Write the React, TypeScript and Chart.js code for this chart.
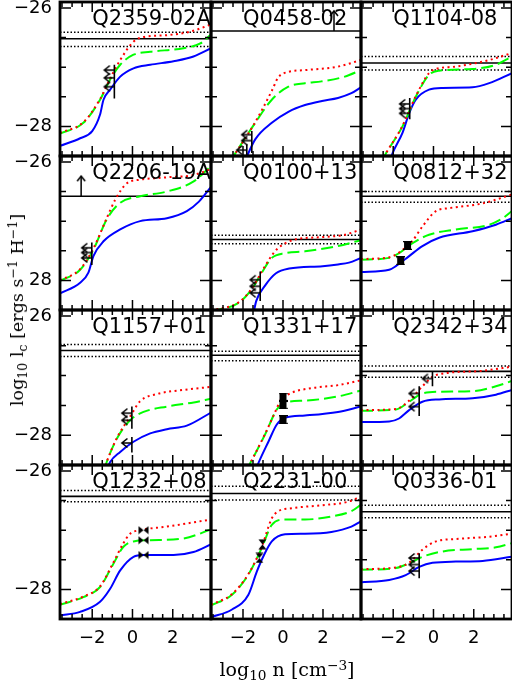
import React, { useEffect, useRef } from 'react';
import { Chart, registerables } from 'chart.js';

Chart.register(...registerables);

// ---------- axis ranges and ticks ----------
const X_MIN = -3.6;
const X_MAX = 3.9;
const Y_MIN = -28.5;
const Y_MAX = -25.9;
const MAJOR_STEP = 2;
const MINOR_STEP = 0.5;
const TITLE_X = -2; // panel names start at this x value
const TITLE_Y = -26.28; // panel names baseline

const PANEL_NAMES = [
  'Q2359-02A', 'Q0458-02', 'Q1104-08',
  'Q2206-19A', 'Q0100+13', 'Q0812+32',
  'Q1157+01', 'Q1331+17', 'Q2342+34',
  'Q1232+08', 'Q2231-00', 'Q0336-01',
];

// ---------- Q2359-02A ----------
const BLUE_Q2359 = [[-3.6, -28.33], [-2.6, -28.2], [-2.0, -28.08], [-1.61, -27.8], [-1.44, -27.55], [-1.11, -27.38], [-0.61, -27.16], [0.05, -27.02], [0.88, -26.96], [2.04, -26.9], [3.03, -26.82], [3.9, -26.68]];
const GREEN_Q2359 = [[-3.6, -28.12], [-2.44, -27.94], [-1.61, -27.55], [-1.11, -27.21], [-0.61, -26.96], [0.05, -26.79], [0.88, -26.74], [2.54, -26.68], [3.37, -26.6], [3.9, -26.45]];
const RED_Q2359 = [[-3.6, -28.11], [-2.44, -27.93], [-1.61, -27.54], [-1.11, -27.19], [-0.61, -26.88], [0.05, -26.57], [0.55, -26.49], [1.71, -26.46], [2.87, -26.4], [3.9, -26.28]];
const LEVEL_Q2359 = [-26.52, -26.41, -26.65];
const BARS_Q2359 = [[-0.9, -26.96, -27.53]];
const ARROWS_Q2359 = [[-0.9, -27.05], [-0.9, -27.18], [-0.9, -27.33]];

// ---------- Q0458-02 ----------
const BLUE_Q0458 = [[-1.93, -28.6], [-1.39, -28.22], [-0.56, -27.94], [0.29, -27.75], [1.1, -27.64], [1.95, -27.57], [2.75, -27.52], [3.42, -27.44], [3.9, -27.34]];
const GREEN_Q0458 = [[-2.66, -28.6], [-1.39, -27.94], [-0.56, -27.55], [0.27, -27.33], [1.1, -27.27], [1.93, -27.24], [3.09, -27.16], [3.9, -27.05]];
const RED_Q0458 = [[-2.66, -28.6], [-1.39, -27.93], [-0.56, -27.4], [-0.23, -27.17], [0.27, -27.08], [1.1, -27.05], [2.75, -26.99], [3.9, -26.88]];
const LEVEL_Q0458 = [-26.39];
const LIMIT_Q0458 = [2.55, -26.05];
const BARS_Q0458 = [[-1.56, -28.08, -28.45], [-1.81, -28.3, -28.55]];
const ARROWS_Q0458 = [[-1.56, -28.14], [-1.56, -28.24], [-1.81, -28.4]];

// ---------- Q1104-08 ----------
const BLUE_Q1104 = [[-2.17, -28.6], [-2.04, -28.46], [-1.54, -28.11], [-1.21, -27.78], [-0.88, -27.55], [-0.22, -27.38], [0.45, -27.35], [1.94, -27.34], [2.77, -27.27], [3.9, -27.1]];
const GREEN_Q1104 = [[-2.6, -28.6], [-2.37, -28.46], [-1.54, -28.0], [-0.88, -27.5], [-0.22, -27.13], [0.28, -27.06], [1.94, -27.03], [3.1, -26.96], [3.9, -26.82]];
const RED_Q1104 = [[-2.6, -28.6], [-2.37, -28.46], [-1.54, -27.99], [-0.88, -27.49], [-0.22, -27.1], [0.12, -27.03], [1.11, -26.99], [2.77, -26.88], [3.9, -26.76]];
const LEVEL_Q1104 = [-26.93, -26.82, -27.05];
const BARS_Q1104 = [[-1.18, -27.52, -27.88]];
const ARROWS_Q1104 = [[-1.18, -27.62], [-1.18, -27.7], [-1.18, -27.78]];

// ---------- Q2206-19A ----------
const BLUE_Q2206 = [[-3.6, -28.22], [-2.6, -28.04], [-2.19, -27.87], [-1.94, -27.59], [-1.44, -27.34], [-0.61, -27.14], [0.38, -27.0], [1.71, -26.95], [2.7, -26.83], [3.3, -26.67], [3.9, -26.42]];
const GREEN_Q2206 = [[-3.6, -28.01], [-2.6, -27.82], [-1.94, -27.48], [-1.28, -26.97], [-0.61, -26.69], [0.38, -26.58], [1.71, -26.5], [3.04, -26.33], [3.9, -26.07]];
const RED_Q2206 = [[-3.6, -28.0], [-2.6, -27.81], [-1.94, -27.46], [-1.28, -26.95], [-0.86, -26.64], [-0.28, -26.36], [0.38, -26.3], [1.71, -26.26], [3.04, -26.22], [3.9, -26.12]];
const LEVEL_Q2206 = [-26.58];
const LIMIT_Q2206 = [-2.55, -26.24];
const BARS_Q2206 = [[-2.02, -27.36, -27.74]];
const ARROWS_Q2206 = [[-2.02, -27.45], [-2.02, -27.53], [-2.02, -27.62]];

// ---------- Q0100+13 ----------
const BLUE_Q0100 = [[-1.5, -28.6], [-1.34, -28.35], [-0.88, -28.08], [-0.35, -27.88], [0.31, -27.8], [1.98, -27.76], [2.75, -27.73], [3.3, -27.7], [3.9, -27.62]];
const GREEN_Q0100 = [[-3.6, -28.52], [-2.22, -28.38], [-1.56, -28.15], [-1.06, -27.87], [-0.56, -27.62], [0.1, -27.54], [1.1, -27.51], [2.75, -27.42], [3.9, -27.32]];
const RED_Q0100 = [[-3.6, -28.51], [-2.22, -28.37], [-1.56, -28.14], [-1.06, -27.85], [-0.56, -27.58], [-0.23, -27.45], [0.6, -27.31], [1.93, -27.27], [3.09, -27.23], [3.9, -27.14]];
const LEVEL_Q0100 = [-27.31, -27.24, -27.38];
const BARS_Q0100 = [[-1.14, -27.85, -28.35]];
const ARROWS_Q0100 = [[-1.14, -27.99], [-1.14, -28.1], [-1.14, -28.21]];

// ---------- Q0812+32 ----------
const BLUE_Q0812 = [[-3.6, -27.86], [-2.2, -27.82], [-1.87, -27.76], [-1.21, -27.59], [-0.55, -27.42], [0.28, -27.28], [1.94, -27.17], [3.1, -27.06], [3.9, -26.95]];
const GREEN_Q0812 = [[-3.6, -27.65], [-2.2, -27.62], [-1.71, -27.54], [-1.04, -27.37], [-0.22, -27.23], [1.11, -27.14], [2.77, -27.06], [3.44, -26.95], [3.9, -26.83]];
const RED_Q0812 = [[-3.6, -27.64], [-2.2, -27.61], [-1.71, -27.53], [-1.04, -27.33], [-0.55, -27.09], [0.12, -26.83], [0.78, -26.78], [2.44, -26.7], [3.9, -26.55]];
const LEVEL_Q0812 = [-26.58, -26.5, -26.68];
const POINTS_Q0812 = [[-1.29, -27.41], [-1.63, -27.67]];

// ---------- Q1157+01 ----------
const BLUE_Q1157 = [[-1.3, -28.6], [-1.11, -28.45], [-0.61, -28.28], [0.05, -28.11], [0.88, -27.97], [1.71, -27.9], [2.7, -27.84], [3.9, -27.62]];
const GREEN_Q1157 = [[-1.42, -28.6], [-1.28, -28.45], [-0.78, -28.06], [-0.12, -27.75], [0.55, -27.61], [1.71, -27.52], [3.04, -27.45], [3.9, -27.39]];
const RED_Q1157 = [[-1.42, -28.6], [-1.28, -28.45], [-0.78, -28.05], [-0.12, -27.69], [0.38, -27.43], [1.21, -27.31], [2.54, -27.24], [3.9, -27.19]];
const LEVEL_Q1157 = [-26.58, -26.48, -26.68];
const BARS_Q1157 = [[-0.03, -27.52, -27.89], [-0.03, -28.03, -28.29]];
const ARROWS_Q1157 = [[-0.03, -27.63], [-0.03, -27.75], [-0.03, -28.13]];

// ---------- Q1331+17 ----------
const BLUE_Q1331 = [[-1.38, -28.6], [-1.23, -28.47], [-0.73, -28.11], [-0.31, -27.82], [0.1, -27.71], [1.1, -27.67], [2.75, -27.61], [3.9, -27.52]];
const GREEN_Q1331 = [[-1.85, -28.6], [-1.64, -28.47], [-0.9, -27.99], [-0.31, -27.57], [0.1, -27.45], [1.1, -27.42], [2.75, -27.35], [3.9, -27.25]];
const RED_Q1331 = [[-1.85, -28.6], [-1.64, -28.47], [-0.9, -27.98], [-0.31, -27.55], [-0.15, -27.43], [0.43, -27.29], [1.43, -27.21], [2.75, -27.16], [3.9, -27.08]];
const LEVEL_Q1331 = [-26.66, -26.59, -26.75];
const POINTS_Q1331 = [[0.0, -27.36], [0.0, -27.49], [0.0, -27.74]];

// ---------- Q2342+34 ----------
const BLUE_Q2342 = [[-3.6, -27.78], [-2.2, -27.77], [-1.71, -27.72], [-1.21, -27.58], [-0.55, -27.44], [0.28, -27.4], [1.94, -27.38], [3.1, -27.32], [3.9, -27.24]];
const GREEN_Q2342 = [[-3.6, -27.59], [-1.87, -27.57], [-1.21, -27.44], [-0.55, -27.3], [0.28, -27.27], [1.94, -27.26], [3.1, -27.18], [3.9, -27.09]];
const RED_Q2342 = [[-3.6, -27.58], [-1.87, -27.56], [-1.21, -27.42], [-0.55, -27.18], [-0.05, -27.02], [0.61, -26.96], [2.44, -26.92], [3.9, -26.85]];
const LEVEL_Q2342 = [-26.93, -26.84, -27.03];
const BARS_Q2342 = [[-0.05, -26.93, -27.18], [-0.71, -27.18, -27.68]];
const ARROWS_Q2342 = [[-0.05, -27.05], [-0.71, -27.3], [-0.71, -27.52]];

// ---------- Q1232+08 ----------
const BLUE_Q1232 = [[-3.6, -28.44], [-2.6, -28.38], [-1.61, -28.21], [-1.11, -27.99], [-0.61, -27.68], [0.05, -27.45], [0.55, -27.42], [2.04, -27.42], [3.03, -27.37], [3.9, -27.24]];
const GREEN_Q1232 = [[-3.6, -28.26], [-2.44, -28.13], [-1.61, -27.96], [-1.03, -27.62], [-0.45, -27.28], [0.05, -27.19], [0.88, -27.17], [2.54, -27.14], [3.9, -26.99]];
const RED_Q1232 = [[-3.6, -28.25], [-2.44, -28.12], [-1.61, -27.95], [-1.03, -27.6], [-0.45, -27.22], [-0.12, -27.06], [0.38, -27.0], [1.71, -26.94], [3.9, -26.82]];
const LEVEL_Q1232 = [-26.43, -26.33, -26.52];
const POINTS_Q1232 = [[0.55, -27.0], [0.55, -27.17], [0.55, -27.42]];

// ---------- Q2231-00 ----------
const BLUE_Q2231 = [[-3.6, -28.47], [-2.55, -28.34], [-1.73, -28.09], [-1.31, -27.7], [-0.98, -27.44], [-0.56, -27.19], [0.1, -27.07], [1.1, -27.06], [2.42, -27.03], [3.42, -26.94], [3.9, -26.85]];
const GREEN_Q2231 = [[-3.6, -28.27], [-2.55, -28.09], [-1.73, -27.75], [-1.06, -27.3], [-0.56, -26.91], [0.1, -26.82], [1.1, -26.82], [2.42, -26.77], [3.42, -26.68], [3.9, -26.57]];
const RED_Q2231 = [[-3.6, -28.26], [-2.55, -28.08], [-1.73, -27.74], [-1.06, -27.28], [-0.56, -26.8], [-0.23, -26.68], [0.43, -26.63], [1.93, -26.58], [3.25, -26.52], [3.9, -26.43]];
const LEVEL_Q2231 = [-26.38, -26.26, -26.49];
const POINTS_Q2231 = [[-1.03, -27.24], [-1.18, -27.47]];

// ---------- Q0336-01 ----------
const BLUE_Q0336 = [[-3.6, -27.88], [-2.2, -27.84], [-1.38, -27.76], [-0.71, -27.62], [-0.05, -27.55], [1.11, -27.53], [2.44, -27.52], [3.9, -27.45]];
const GREEN_Q0336 = [[-3.6, -27.67], [-1.87, -27.64], [-1.21, -27.56], [-0.55, -27.45], [0.45, -27.36], [1.94, -27.32], [3.1, -27.29], [3.9, -27.22]];
const RED_Q0336 = [[-3.6, -27.66], [-1.87, -27.63], [-1.21, -27.55], [-0.55, -27.33], [0.12, -27.19], [1.11, -27.15], [2.77, -27.11], [3.9, -27.06]];
const LEVEL_Q0336 = [-26.69, -26.58, -26.79];
const BARS_Q0336 = [[-0.71, -27.39, -27.81]];
const ARROWS_Q0336 = [[-0.71, -27.47], [-0.71, -27.58], [-0.71, -27.69]];

type Pair = number[];
type PanelData = {
  blue: Pair[]; green: Pair[]; red: Pair[]; level: number[];
  limit?: number[]; bars?: number[][]; arrows?: Pair[]; points?: Pair[]; glyph?: 'bow' | 'hour' | 'box';
};

const PANELS: PanelData[] = [
  { blue: BLUE_Q2359, green: GREEN_Q2359, red: RED_Q2359, level: LEVEL_Q2359, bars: BARS_Q2359, arrows: ARROWS_Q2359 },
  { blue: BLUE_Q0458, green: GREEN_Q0458, red: RED_Q0458, level: LEVEL_Q0458, limit: LIMIT_Q0458, bars: BARS_Q0458, arrows: ARROWS_Q0458 },
  { blue: BLUE_Q1104, green: GREEN_Q1104, red: RED_Q1104, level: LEVEL_Q1104, bars: BARS_Q1104, arrows: ARROWS_Q1104 },
  { blue: BLUE_Q2206, green: GREEN_Q2206, red: RED_Q2206, level: LEVEL_Q2206, limit: LIMIT_Q2206, bars: BARS_Q2206, arrows: ARROWS_Q2206 },
  { blue: BLUE_Q0100, green: GREEN_Q0100, red: RED_Q0100, level: LEVEL_Q0100, bars: BARS_Q0100, arrows: ARROWS_Q0100 },
  { blue: BLUE_Q0812, green: GREEN_Q0812, red: RED_Q0812, level: LEVEL_Q0812, points: POINTS_Q0812, glyph: 'box' },
  { blue: BLUE_Q1157, green: GREEN_Q1157, red: RED_Q1157, level: LEVEL_Q1157, bars: BARS_Q1157, arrows: ARROWS_Q1157 },
  { blue: BLUE_Q1331, green: GREEN_Q1331, red: RED_Q1331, level: LEVEL_Q1331, points: POINTS_Q1331, glyph: 'box' },
  { blue: BLUE_Q2342, green: GREEN_Q2342, red: RED_Q2342, level: LEVEL_Q2342, bars: BARS_Q2342, arrows: ARROWS_Q2342 },
  { blue: BLUE_Q1232, green: GREEN_Q1232, red: RED_Q1232, level: LEVEL_Q1232, points: POINTS_Q1232, glyph: 'bow' },
  { blue: BLUE_Q2231, green: GREEN_Q2231, red: RED_Q2231, level: LEVEL_Q2231, points: POINTS_Q2231, glyph: 'hour' },
  { blue: BLUE_Q0336, green: GREEN_Q0336, red: RED_Q0336, level: LEVEL_Q0336, bars: BARS_Q0336, arrows: ARROWS_Q0336 },
];

// ---------- layout (pixels) ----------
const COL_EDGES = [60, 211, 361, 512];
const ROW_EDGES = [2, 156, 310, 465, 619];
const PAD = 24;
const BOTTOM_AXIS = 50;
const LEFT_AXIS = 60;

const TICK_FONT = { family: '"DejaVu Sans"', size: 18 };

// ---------- marker glyphs ----------
function makeGlyphs() {
  const mk = (w: number, h: number, draw: (c: CanvasRenderingContext2D) => void) => {
    const cv = document.createElement('canvas');
    cv.width = w; cv.height = h;
    const c = cv.getContext('2d')!;
    c.strokeStyle = '#000'; c.fillStyle = '#000'; c.lineWidth = 1.6;
    draw(c);
    return cv;
  };
  const left = mk(24, 12, (c) => {
    c.beginPath();
    c.moveTo(12, 6); c.lineTo(2, 6);
    c.moveTo(7.5, 1.5); c.lineTo(2, 6); c.lineTo(7.5, 10.5);
    c.stroke();
  });
  const up = mk(12, 12, (c) => {
    c.beginPath();
    c.moveTo(2, 11); c.lineTo(6, 6); c.lineTo(10, 11);
    c.stroke();
  });
  const bow = mk(11, 9, (c) => {
    c.beginPath();
    c.moveTo(0.5, 0.5); c.lineTo(0.5, 8.5); c.lineTo(5.5, 4.5); c.closePath();
    c.moveTo(10.5, 0.5); c.lineTo(10.5, 8.5); c.lineTo(5.5, 4.5); c.closePath();
    c.fill();
  });
  const hour = mk(9, 11, (c) => {
    c.beginPath();
    c.moveTo(0.5, 0.5); c.lineTo(8.5, 0.5); c.lineTo(4.5, 5.5); c.closePath();
    c.moveTo(0.5, 10.5); c.lineTo(8.5, 10.5); c.lineTo(4.5, 5.5); c.closePath();
    c.fill();
  });
  const box = mk(9, 9, (c) => {
    c.fillRect(1, 1, 7, 7);
    c.beginPath();
    c.moveTo(0, 0.5); c.lineTo(9, 0.5);
    c.moveTo(0, 8.5); c.lineTo(9, 8.5);
    c.stroke();
  });
  return { left, up, bow, hour, box };
}

const framePlugin = {
  id: 'panelFrame',
  afterDatasetsDraw(chart: any, _args: any, opts: any) {
    const { ctx, chartArea: a, scales } = chart;
    const xs = scales.x;
    const ys = scales.y;
    ctx.save();
    ctx.strokeStyle = '#000';
    ctx.lineWidth = 1.5;
    ctx.beginPath();
    const isMajor = (v: number) => Math.abs(v / MAJOR_STEP - Math.round(v / MAJOR_STEP)) < 1e-6;
    for (let i = Math.ceil(X_MIN / MINOR_STEP); i * MINOR_STEP <= X_MAX + 1e-9; i++) {
      const v = i * MINOR_STEP;
      const px = xs.getPixelForValue(v);
      const len = isMajor(v) ? 10 : 5;
      ctx.moveTo(px, a.bottom); ctx.lineTo(px, a.bottom - len);
      ctx.moveTo(px, a.top); ctx.lineTo(px, a.top + len);
    }
    for (let i = Math.ceil(Y_MIN / MINOR_STEP); i * MINOR_STEP <= Y_MAX + 1e-9; i++) {
      const v = i * MINOR_STEP;
      const py = ys.getPixelForValue(v);
      const len = isMajor(v) ? 11 : 6;
      ctx.moveTo(a.left, py); ctx.lineTo(a.left + len, py);
      ctx.moveTo(a.right, py); ctx.lineTo(a.right - len, py);
    }
    ctx.stroke();
    ctx.lineWidth = 2.8;
    ctx.strokeRect(a.left, a.top, a.right - a.left, a.bottom - a.top);
    ctx.font = '21px "DejaVu Sans"';
    ctx.fillStyle = '#000';
    ctx.textAlign = 'left';
    ctx.textBaseline = 'alphabetic';
    ctx.fillText(opts.name, xs.getPixelForValue(TITLE_X), ys.getPixelForValue(TITLE_Y));
    ctx.restore();
  },
};

function toXY(pts: Pair[]) {
  return pts.map(([x, y]) => ({ x, y }));
}

function buildDatasets(p: PanelData, g: ReturnType<typeof makeGlyphs>) {
  const ds: any[] = [];
  const line = (pts: Pair[], color: string, width: number, dash: number[], smooth = false) => ({
    data: toXY(pts),
    borderColor: color,
    borderWidth: width,
    borderDash: dash,
    pointRadius: 0,
    fill: false,
    tension: 0,
    cubicInterpolationMode: smooth ? 'monotone' : 'default',
  });
  const marks = (pts: Pair[], style: HTMLCanvasElement) => ({
    data: toXY(pts),
    showLine: false,
    pointStyle: style,
    pointRadius: 4,
    borderColor: '#000',
    backgroundColor: '#000',
  });
  const glyphFor = { bow: g.bow, hour: g.hour, box: g.box };
  if (p.arrows) ds.push(marks(p.arrows, g.left));
  if (p.points) ds.push(marks(p.points, glyphFor[p.glyph || 'hour']));
  (p.bars || []).forEach(([x, y1, y2]) => ds.push(line([[x, y1], [x, y2]], '#000', 1.6, [])));
  if (p.limit) {
    const [lx, top] = p.limit;
    ds.push(marks([[lx, top]], g.up));
    ds.push(line([[lx, p.level[0]], [lx, top]], '#000', 1.5, []));
  }
  ds.push(line(p.red, '#ff0000', 2, [2, 3.5], true));
  ds.push(line(p.green, '#00ff00', 2, [12, 5], true));
  ds.push(line(p.blue, '#0000ff', 2, [], true));
  ds.push(line([[X_MIN, p.level[0]], [X_MAX, p.level[0]]], '#000', 1.6, []));
  p.level.slice(1).forEach((b) => ds.push(line([[X_MIN, b], [X_MAX, b]], '#000', 1.5, [1.5, 2])));
  return ds;
}

function Panel({ index }: { index: number }) {
  const ref = useRef<HTMLCanvasElement>(null);
  const r = Math.floor(index / 3);
  const c = index % 3;
  const showY = c === 0;
  const showX = r === 3;
  const padL = showY ? LEFT_AXIS : 6;
  const padR = 6;
  const padT = PAD;
  const padB = showX ? BOTTOM_AXIS : PAD;
  const w = COL_EDGES[c + 1] - COL_EDGES[c] + padL + padR;
  const h = ROW_EDGES[r + 1] - ROW_EDGES[r] + padT + padB;
  const left = COL_EDGES[c] - padL;
  const top = ROW_EDGES[r] - padT;

  useEffect(() => {
    const glyphs = makeGlyphs();
    const chart = new Chart(ref.current!, {
      type: 'line',
      data: { datasets: buildDatasets(PANELS[index], glyphs) },
      plugins: [framePlugin],
      options: {
        animation: false,
        responsive: false,
        devicePixelRatio: 1,
        events: [],
        layout: {
          padding: { left: showY ? 0 : padL, right: padR, top: padT, bottom: showX ? 0 : padB },
        },
        scales: {
          x: {
            type: 'linear',
            min: X_MIN,
            max: X_MAX,
            display: showX,
            grid: { display: false, drawTicks: false },
            border: { display: false },
            ticks: { stepSize: MAJOR_STEP, includeBounds: false, font: TICK_FONT, color: '#000', padding: 9, maxRotation: 0,
              callback: (v: any) => String(v).replace('-', '\u2212') },
            afterFit: (s: any) => { if (showX) s.height = BOTTOM_AXIS; },
          },
          y: {
            type: 'linear',
            min: Y_MIN,
            max: Y_MAX,
            display: showY,
            grid: { display: false, drawTicks: false },
            border: { display: false },
            ticks: { stepSize: MAJOR_STEP, includeBounds: false, font: TICK_FONT, color: '#000', padding: 8,
              callback: (v: any) => String(v).replace('-', '\u2212') },
            afterFit: (s: any) => { if (showY) s.width = LEFT_AXIS; },
          },
        },
        plugins: {
          legend: { display: false },
          tooltip: { enabled: false },
          panelFrame: { name: PANEL_NAMES[index] },
        } as any,
      },
    } as any);
    return () => chart.destroy();
  }, [index]);

  return (
    <canvas
      ref={ref}
      width={w}
      height={h}
      style={{ position: 'absolute', left, top, width: w, height: h }}
    />
  );
}

const sub: React.CSSProperties = { fontSize: '0.72em', position: 'relative', top: '0.3em' };
const sup: React.CSSProperties = { fontSize: '0.72em', position: 'relative', top: '-0.45em' };

export default function App() {
  return (
    <div style={{ position: 'absolute', left: 0, top: 0, width: 512, height: 690, overflow: 'hidden', background: '#fff' }}>
      {PANEL_NAMES.map((_, i) => <Panel key={i} index={i} />)}
      <div
        style={{
          position: 'absolute', left: 18, top: 310,
          transform: 'translate(-50%, -50%) rotate(-90deg)',
          whiteSpace: 'nowrap', background: '#fff',
          font: '17.5px "DejaVu Serif"', lineHeight: '18px', color: '#000',
        }}
      >
        log<span style={sub}>10</span> l<span style={sub}>c</span> [ergs s<span style={sup}>−1</span> H<span style={sup}>−1</span>]
      </div>
      <div
        style={{
          position: 'absolute', left: 287, top: 670,
          transform: 'translate(-50%, -50%)',
          whiteSpace: 'nowrap',
          font: '19px "DejaVu Serif"', lineHeight: '22px', color: '#000',
        }}
      >
        log<span style={sub}>10</span> n [cm<span style={sup}>−3</span>]
      </div>
    </div>
  );
}
